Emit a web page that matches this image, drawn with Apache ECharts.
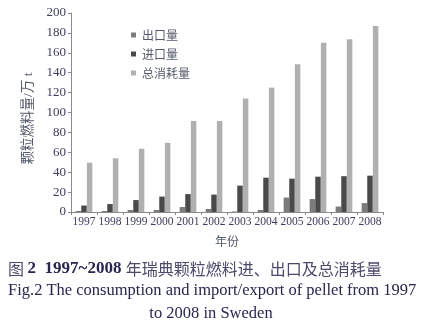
<!DOCTYPE html>
<html><head><meta charset="utf-8">
<script src="https://cdn.jsdelivr.net/npm/echarts@6/dist/echarts.min.js"></script>
<style>html,body{margin:0;padding:0;background:#fff}#c{width:422px;height:323px}</style>
</head><body><div id="c"></div>
<script>
const years = ['1997','1998','1999','2000','2001','2002','2003','2004','2005','2006','2007','2008'];
const exportVals = [1, 1, 2, 2, 5, 3, 0.5, 2, 14.5, 13, 5.5, 9];
const importVals = [6.5, 8, 12, 15.5, 18, 17.5, 26.5, 34.5, 33.5, 35.5, 36, 36.5];
const totalVals = [49.5, 54, 63.5, 69.5, 91.5, 91.5, 114, 125, 148.5, 170, 173.5, 187];
const seriesNames = ['出口量', '进口量', '总消耗量'];
const yTicks = {min: 0, max: 200, interval: 20};

const serif = "'Liberation Serif', 'Noto Sans CJK SC', serif";
const cjk = "'Noto Sans CJK SC', 'Liberation Serif', sans-serif";
const labelColor = '#3c3c5c';
const capColor = '#26264e';

const chart = echarts.init(document.getElementById('c'), null, {renderer: 'canvas'});
chart.setOption({
  animation: false,
  backgroundColor: '#fff',
  grid: {left: 71, right: 39, top: 13, bottom: 111, containLabel: false},
  title: [
    {text: '{a|图 }{b|2  1997~2008 }{c|年瑞典颗粒燃料进、出口及总消耗量}', left: 3, top: 255,
     textStyle: {fontWeight: 'normal', rich: {
       a: {fontFamily: cjk, fontSize: 16, fontWeight: 'normal', color: '#4a4a6a'},
       b: {fontFamily: serif, fontSize: 17, fontWeight: 'bold', color: capColor},
       c: {fontFamily: cjk, fontSize: 16, fontWeight: 'normal', color: '#4a4a6a'}
     }}},
    {text: 'Fig.2 The consumption and import/export of pellet from 1997', left: 3, top: 277,
     textStyle: {fontFamily: serif, fontSize: 16.5, fontWeight: 'normal', color: capColor}},
    {text: 'to 2008 in Sweden', left: 'center', top: 300,
     textStyle: {fontFamily: serif, fontSize: 16.5, fontWeight: 'normal', color: capColor}}
  ],
  legend: {
    orient: 'vertical', left: 126, top: 24, itemWidth: 5, itemHeight: 5, itemGap: 7,
    icon: 'rect', data: seriesNames,
    textStyle: {fontFamily: cjk, fontSize: 12, color: '#555a6a', padding: [0, 0, 0, 1]}
  },
  xAxis: {
    type: 'category', data: years,
    name: '年份', nameLocation: 'middle', nameGap: 23,
    nameTextStyle: {fontFamily: cjk, fontSize: 12, color: '#555a6a'},
    axisLine: {lineStyle: {color: '#8a8a8a', width: 1}},
    axisTick: {show: true, length: 3, lineStyle: {color: '#8a8a8a'}},
    axisLabel: {fontFamily: serif, fontSize: 11.5, color: labelColor, margin: 4, interval: 0},
    splitLine: {show: false}
  },
  yAxis: {
    type: 'value', min: yTicks.min, max: yTicks.max, interval: yTicks.interval,
    name: '颗粒燃料量/万 t', nameLocation: 'middle', nameGap: 30, nameRotate: 90,
    nameTextStyle: {fontFamily: serif, fontSize: 13.5, color: '#555a6a', padding: [0, 12, 0, 0]},
    axisLine: {show: true, lineStyle: {color: '#8a8a8a', width: 1}},
    axisTick: {show: true, length: 3, lineStyle: {color: '#8a8a8a'}},
    axisLabel: {fontFamily: serif, fontSize: 13, color: labelColor, margin: 5},
    splitLine: {show: false}
  },
  series: [
    {name: seriesNames[0], type: 'bar', data: exportVals, barWidth: 5.5, barGap: '2%', itemStyle: {color: '#7c7c7c'}},
    {name: seriesNames[1], type: 'bar', data: importVals, barWidth: 5.5, barGap: '2%', itemStyle: {color: '#4a4a4a'}},
    {name: seriesNames[2], type: 'bar', data: totalVals, barWidth: 5.5, barGap: '2%', itemStyle: {color: '#b0b0b0'}}
  ]
});
</script></body></html>
